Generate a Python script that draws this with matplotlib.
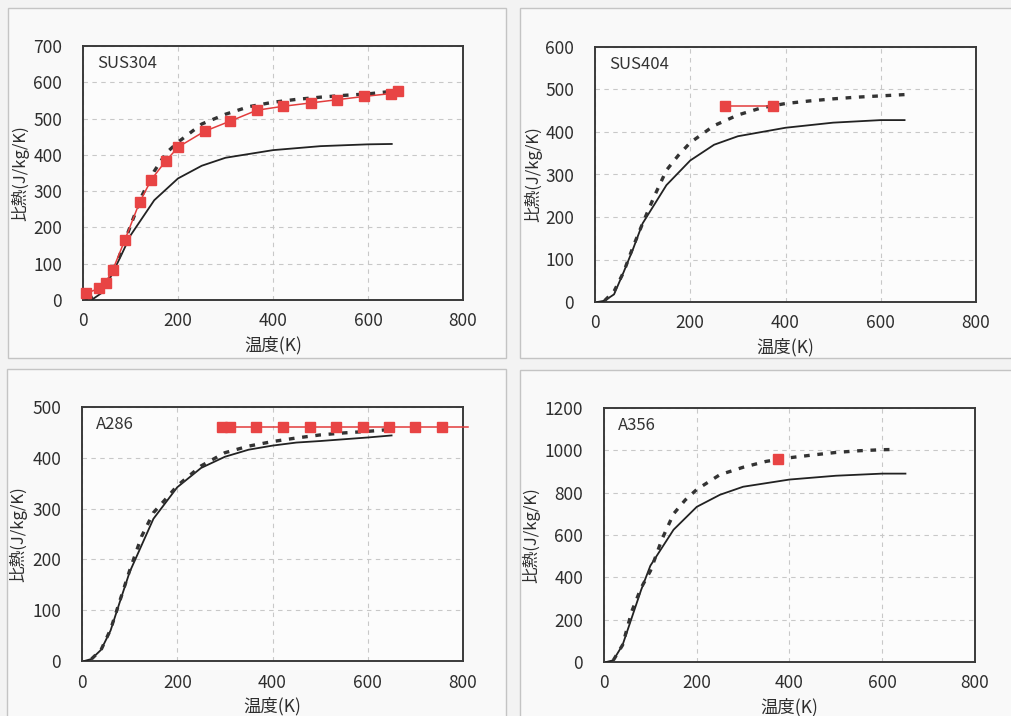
import matplotlib
matplotlib.use("Agg")
import matplotlib.pyplot as plt
from matplotlib.patches import Rectangle

plt.rcParams['font.family'] = ['Noto Sans CJK JP', 'DejaVu Sans']

# ---- data ----
# SUS304
t_solid_304 = [5, 20, 40, 60, 80, 100, 150, 200, 250, 300, 400, 500, 600, 650]
cp_solid_304 = [0, 2, 20, 68, 122, 178, 275, 335, 370, 392, 413, 424, 429, 430]
t_dash_304 = [10, 25, 50, 75, 100, 125, 150, 175, 200, 250, 300, 350, 400, 450, 500, 550, 600, 650]
cp_dash_304 = [2, 10, 45, 115, 205, 290, 355, 405, 435, 485, 512, 533, 545, 553, 559, 564, 568, 575]
t_meas_304 = [7, 33, 48, 63, 88, 119, 144, 174, 201, 256, 310, 366, 422, 479, 535, 592, 649, 663]
cp_meas_304 = [18, 32, 48, 84, 165, 269, 332, 383, 422, 465, 493, 523, 534, 543, 552, 561, 569, 575]

# SUS404
t_solid_404 = [5, 20, 40, 60, 80, 100, 150, 200, 250, 300, 400, 500, 600, 650]
cp_solid_404 = [0, 3, 18, 70, 125, 185, 275, 333, 370, 390, 410, 422, 428, 428]
t_dash_404 = [20, 40, 60, 80, 100, 125, 150, 175, 200, 250, 300, 350, 400, 450, 500, 550, 600, 650]
cp_dash_404 = [3, 25, 70, 130, 185, 250, 310, 345, 375, 415, 440, 457, 467, 473, 478, 482, 485, 488]
t_meas_404 = [273, 373]
cp_meas_404 = [460, 460]

# A286
t_solid_286 = [5, 20, 40, 60, 80, 100, 150, 200, 250, 300, 350, 400, 450, 500, 600, 650]
cp_solid_286 = [0, 4, 22, 60, 118, 175, 280, 342, 380, 402, 416, 424, 430, 433, 440, 444]
t_dash_286 = [20, 40, 60, 80, 100, 125, 150, 175, 200, 250, 300, 350, 400, 450, 500, 550, 600, 650]
cp_dash_286 = [4, 22, 62, 120, 178, 245, 292, 318, 345, 384, 410, 423, 432, 439, 445, 449, 452, 456]
t_meas_286 = [293, 311, 366, 422, 478, 533, 589, 644, 700, 755, 811]
cp_meas_286 = [460] * 11

# A356
t_solid_356 = [5, 20, 40, 60, 80, 100, 150, 200, 250, 300, 400, 500, 600, 650]
cp_solid_356 = [0, 8, 80, 210, 340, 455, 625, 733, 790, 828, 862, 880, 890, 890]
t_dash_356 = [20, 40, 60, 80, 100, 125, 150, 175, 200, 250, 300, 350, 400, 450, 500, 550, 600, 625]
cp_dash_356 = [8, 80, 240, 350, 430, 580, 700, 765, 815, 885, 920, 948, 965, 978, 990, 998, 1003, 1004]
t_meas_356 = [375]
cp_meas_356 = [960]

names = ["SUS304", "SUS404", "A286", "A356"]
ymax = [700, 600, 500, 1200]
ystep = [100, 100, 100, 200]

W, H = 1012, 716
fig = plt.figure(figsize=(W / 100, H / 100), dpi=100, facecolor='#f3f3f3')


def px_box(x0, y0, x1, y1):
    # pixel box (top-left origin) -> figure fraction
    return [x0 / W, 1 - y1 / H, (x1 - x0) / W, (y1 - y0) / H]


# light frames round each panel
for x0, y0, x1, y1 in [(8, 8, 506, 358), (520, 8, 1030, 358), (7, 369, 506, 730), (520, 370, 1030, 730)]:
    b = px_box(x0, y0, x1, y1)
    fig.add_artist(Rectangle((b[0], b[1]), b[2], b[3], transform=fig.transFigure,
                             facecolor='#f9f9f9', edgecolor='#c4c4c4', lw=1.0, zorder=0))

axes_boxes = [(83, 46, 463, 300), (595, 47, 976, 302), (82, 407, 463, 661), (604, 408, 975, 662)]
ylabel_x = [-0.166, -0.163, -0.168, -0.197]

series = [
    (t_solid_304, cp_solid_304, t_dash_304, cp_dash_304, t_meas_304, cp_meas_304),
    (t_solid_404, cp_solid_404, t_dash_404, cp_dash_404, t_meas_404, cp_meas_404),
    (t_solid_286, cp_solid_286, t_dash_286, cp_dash_286, t_meas_286, cp_meas_286),
    (t_solid_356, cp_solid_356, t_dash_356, cp_dash_356, t_meas_356, cp_meas_356),
]

for i, (ts, cs, td, cd, tm, cm) in enumerate(series):
    ax = fig.add_axes(px_box(*axes_boxes[i]))
    ax.set_facecolor('#fcfcfc')
    # calculated curves
    ax.plot(ts, cs, color='#222222', lw=1.3, zorder=3)
    ax.plot(td, cd, color='#333333', lw=2.4, linestyle=(0, (1.7, 2.3)), zorder=3)
    # measured values (line runs past the axis edge in the A286 panel)
    mk = [j for j, t in enumerate(tm) if t <= 800]
    ax.plot(tm, cm, color='#e23c3c', lw=1.1, marker='s', markersize=6.5,
            markerfacecolor='#e84444', markeredgecolor='#e84444', markevery=mk,
            clip_on=False, zorder=4)

    ax.set_xlim(0, 800)
    ax.set_ylim(0, ymax[i])
    ax.set_xticks(range(0, 801, 200))
    ax.set_yticks(range(0, ymax[i] + 1, ystep[i]))
    ax.grid(True, color='#c8c8c8', linestyle=(0, (4, 4)), lw=0.8)
    ax.set_axisbelow(True)
    for s in ax.spines.values():
        s.set_color('#3a3a3a')
        s.set_linewidth(1.4)
    ax.tick_params(length=0, labelsize=12.5, labelcolor='#2e2e2e')
    ax.tick_params(axis='y', pad=15)
    ax.tick_params(axis='x', pad=9)

    ax.set_xlabel("温度(K)", fontsize=12.5, color='#2e2e2e')
    ax.xaxis.label.set_va('center')
    ax.xaxis.set_label_coords(0.5, -0.177)
    ax.set_ylabel("比熱(J/kg/K)", fontsize=12, color='#2e2e2e')
    ax.yaxis.label.set_va('center')
    ax.yaxis.set_label_coords(ylabel_x[i], 0.5)

    ax.text(0.037, 0.93, names[i], transform=ax.transAxes, fontsize=12,
            color='#333333', ha='left', va='center')

plt.savefig("out.png", dpi=100, facecolor=fig.get_facecolor())
